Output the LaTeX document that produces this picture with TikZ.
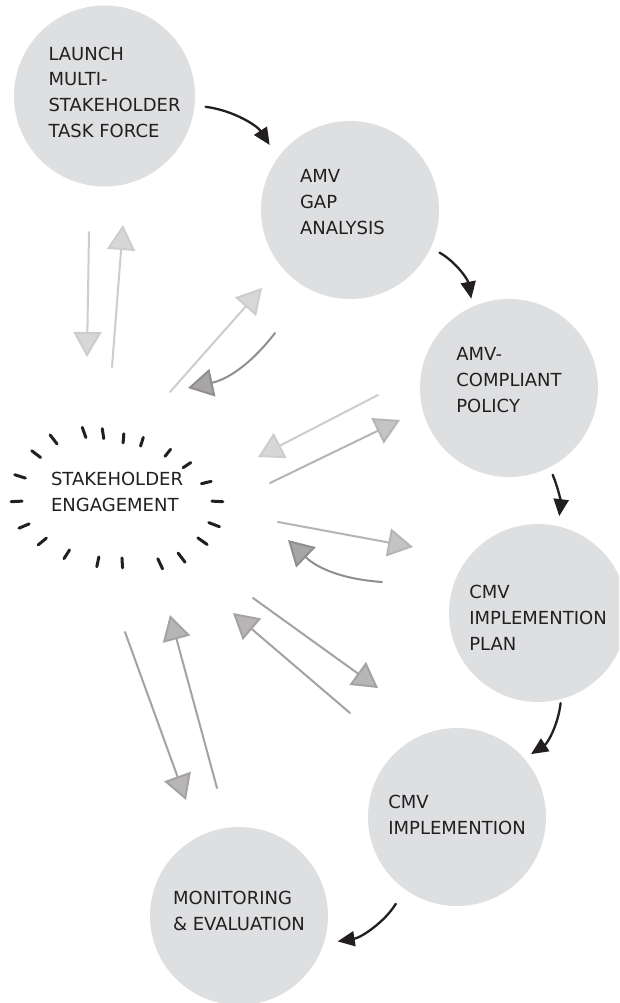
\documentclass[tikz,border=0pt]{standalone}
\usepackage{fontspec}
\setmainfont{DejaVu Sans}
\usetikzlibrary{arrows.meta}

\begin{document}
\begin{tikzpicture}[x=1pt,y=-1pt,line cap=round,
  stage/.style={circle,fill=discfill,minimum size=178pt,inner sep=0pt,align=left,text=inkcolor,text depth=14pt,font=\fontsize{18}{25.7}\selectfont},
  flow/.style={draw=inkcolor,line width=2.3pt,-{Triangle[length=17pt,width=15pt]}},
  link/.style={draw=#1,line width=2pt,-{Triangle[length=25pt,width=28pt,fill=#1!80!white]}},
  tick/.style={draw=inkcolor,line width=3pt}]
 \definecolor{discfill}{RGB}{222,223,225}
 \definecolor{inkcolor}{RGB}{35,31,32}
 \definecolor{linklight}{RGB}{205,205,205}
 \definecolor{linkmid}{RGB}{182,180,180}
 \definecolor{linkdark}{RGB}{165,162,162}
 \definecolor{linkdeep}{RGB}{145,142,142}

 \fill[white,use as bounding box] (0,0) rectangle (619,1003);
 \clip (0,0) rectangle (619,1003);

 \node[stage,text depth=8pt] (launch) at (104.5,96) {\hspace*{20pt}LAUNCH\\\hspace*{20pt}MULTI-\\\hspace*{20pt}STAKEHOLDER\\\hspace*{20pt}TASK FORCE};
 \node[stage,text depth=67.4pt,text width=100pt] (gap) at (350,210) {AMV\\GAP\\ANALYSIS};
 \node[stage,text depth=16pt] (policy) at (509,388) {AMV-\\COMPLIANT\\POLICY};
 \node[stage,text depth=0pt,text height=74pt] (plan) at (538,613) {CMV\\IMPLEMENTION\\PLAN};
 \node[stage,text depth=4pt] (impl) at (457,817) {CMV\\IMPLEMENTION};
 \node[stage,text depth=10pt] (monitor) at (239,916) {MONITORING\\\& EVALUATION};
 \node[align=left,text=inkcolor,font=\fontsize{18}{25.7}\selectfont] (engage) at (117,492) {STAKEHOLDER\\ENGAGEMENT};

 \begin{scope}[shift={(117,498)},yscale=-1]
 \foreach \t/\k in {138/1,120/1,101/1,87/1,67/1.1,55/1.12,38/1.08,23/1.05,3/1,-15/.92,-36/.86,-54/.86,-74/.9,-86/.92,-98/1,-108/1.06,-125/1.1,-140/1.05,-161/1.02,177/1,155/1.02}{
   \pgfmathsetmacro\inx{\k*95}
   \pgfmathsetmacro\iny{\k*60}
   \pgfmathsetmacro\outx{\k*106}
   \pgfmathsetmacro\outy{\k*70}
   \draw[tick] (\t:\inx pt and \iny pt) -- (\t:\outx pt and \outy pt);
 }
 \end{scope}

 \draw[flow,shorten <=11pt,shorten >=15pt] (launch.-6) to[bend left=25] (gap.144);
 \draw[flow,shorten <=10pt,shorten >=8pt] (gap.-25) to[bend left=25] (policy.114);
 \draw[flow,shorten <=8pt,shorten >=10pt] (policy.-63) to[bend left=15] (plan.77);
 \draw[flow,shorten <=4pt,shorten >=8pt] (plan.-75) to[bend left=25] (impl.41);
 \draw[flow,shorten <=17pt,shorten >=14pt] (impl.-126) to[bend left=25] (monitor.-18);

 \foreach \n/\x/\y in {ld1/89/232,ld2/87/357,lu1/112/367,lu2/123/225,
   gu1/170/392,gu2/262/288,gd1/275/333,gd2/188/388,
   pd1/378/395,pd2/258/457,pu1/270/483,pu2/400/420,
   nu1/278/522,nu2/413/547,nd1/382/582,nd2/288/540,
   iu1/253/598,iu2/378/688,id1/350/713,id2/233/613,
   mu1/125/632,mu2/186/800,md1/217/788,md2/170/615}
   \coordinate (\n) at (\x,\y);

 \draw[link=linklight] (ld1) -- (ld2);
 \draw[link=linklight] (lu1) -- (lu2);
 \draw[link=linklight] (gu1) -- (gu2);
 \draw[link=linkdeep] (gd1) to[bend left=20] (gd2);
 \draw[link=linklight] (pd1) -- (pd2);
 \draw[link=linkmid] (pu1) -- (pu2);
 \draw[link=linkmid] (nu1) -- (nu2);
 \draw[link=linkdeep] (nd1) to[bend left=20] (nd2);
 \draw[link=linkdark] (iu1) -- (iu2);
 \draw[link=linkdark] (id1) -- (id2);
 \draw[link=linkdark] (mu1) -- (mu2);
 \draw[link=linkdark] (md1) -- (md2);
\end{tikzpicture}
\end{document}
